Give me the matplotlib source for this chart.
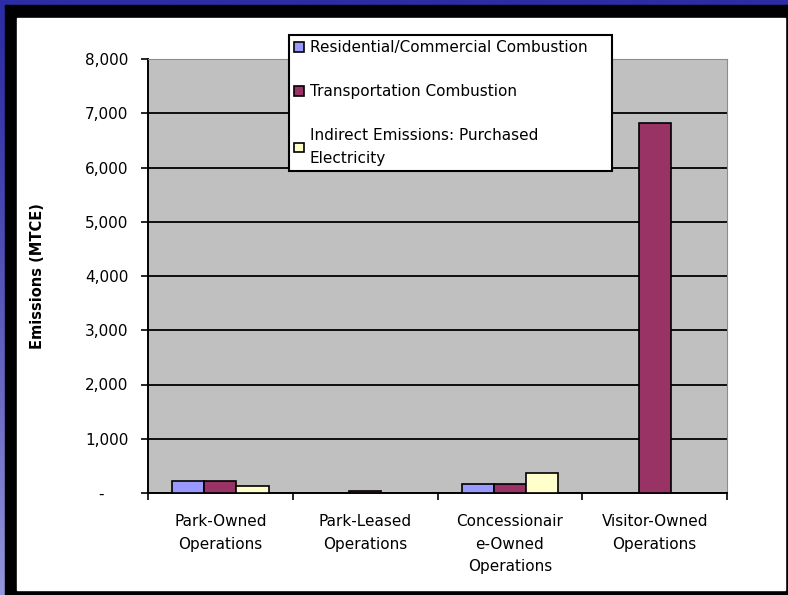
import numpy as np
import matplotlib.pyplot as plt
from matplotlib.patches import Rectangle
from matplotlib.ticker import FuncFormatter, FixedLocator

plt.rcParams['font.family'] = ['DejaVu Sans']

# data
categories = ['Park-Owned\nOperations', 'Park-Leased\nOperations',
              'Concessionair\ne-Owned\nOperations', 'Visitor-Owned\nOperations']
series = ['Residential/Commercial Combustion', 'Transportation Combustion',
          'Indirect Emissions: Purchased\nElectricity']
residential = [225, 0, 175, 0]
transportation = [225, 45, 175, 6820]
indirect = [135, 0, 360, 0]
colors = ['#9999FF', '#993366', '#FFFFCC']

W, H = 788, 595
fig = plt.figure(figsize=(W / 100, H / 100), dpi=100)

# blue gradient slide background
bg = fig.add_axes([0, 0, 1, 1])
gx = np.linspace(0, 1, 200)
gy = np.linspace(0, 1, 200)
GX, GY = np.meshgrid(gx, gy)
t = np.clip((1 - GX * 3) * GY ** 1.3, 0, 1)
c0 = np.array([0x2c, 0x2c, 0xa4]) / 255
c1 = np.array([0x96, 0x96, 0xdc]) / 255
img = c0[None, None, :] * (1 - t[..., None]) + c1[None, None, :] * t[..., None]
bg.imshow(img, extent=[0, 1, 0, 1], aspect='auto', origin='upper')
bg.set_xlim(0, 1)
bg.set_ylim(0, 1)
bg.axis('off')

# black frame with white panel
bg.add_patch(Rectangle((5 / W, 0), 783 / W, 590 / H, color='black'))
bg.add_patch(Rectangle((17 / W, 5 / H), 768 / W, 572 / H, color='white'))

left, right, top, bottom = 148, 727, 59, 493
ax = fig.add_axes([left / W, 1 - bottom / H, (right - left) / W, (bottom - top) / H])
ax.set_facecolor('#C0C0C0')

x = np.arange(len(categories))
bw = 0.222
for i, (vals, c, lab) in enumerate(zip([residential, transportation, indirect], colors, series)):
    ax.bar(x + (i - 1) * bw, vals, width=bw, color=c, edgecolor='black', linewidth=1.2,
           label=lab, zorder=3)

ax.set_xlim(-0.5, 3.5)
ax.set_ylim(0, 8000)
ax.set_yticks(np.arange(0, 8001, 1000))
ax.yaxis.set_major_formatter(FuncFormatter(lambda v, p: '-     ' if v == 0 else f'{int(v):,}'))
ax.grid(axis='y', color='black', linewidth=1.3, zorder=1)
ax.set_xticks(x)
ax.set_xticklabels(categories, linespacing=1.65)
ax.xaxis.set_minor_locator(FixedLocator(np.arange(-0.5, 3.6, 1)))
ax.tick_params(axis='x', which='major', length=0, pad=15, labelsize=11)
ax.tick_params(axis='x', which='minor', length=5, width=1.2, direction='out')
ax.tick_params(axis='y', length=5, width=1.2, direction='out', pad=9, labelsize=11)
for s in ['top', 'right']:
    ax.spines[s].set_color('#8c8c8c')
for s in ['left', 'bottom']:
    ax.spines[s].set_linewidth(1.4)

ax.set_ylabel('Emissions (MTCE)', fontsize=10.5, fontweight='bold')
ax.yaxis.set_label_coords(-0.178, 0.5)

leg = ax.legend(loc='upper left', bbox_to_anchor=(289 / W, 1 - 35 / H - 0.01, 323 / W, 0.01),
                bbox_transform=fig.transFigure, mode='expand', fontsize=11,
                handlelength=0.6, handleheight=0.6, handletextpad=0.4,
                labelspacing=1.9, borderaxespad=0, borderpad=0.35,
                fancybox=False, framealpha=1, edgecolor='black')
leg.get_frame().set_linewidth(1.5)
leg.get_texts()[2].set_linespacing(1.6)

fig.savefig('out.png', dpi=100)
